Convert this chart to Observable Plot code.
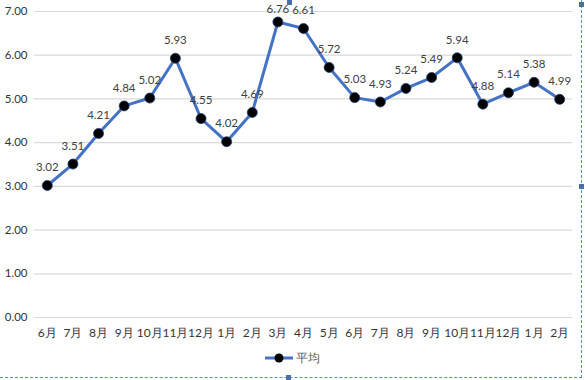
<!DOCTYPE html>
<html>
<head>
<meta charset="utf-8">
<script src="https://cdn.jsdelivr.net/npm/d3@7"></script>
<script src="https://cdn.jsdelivr.net/npm/@observablehq/plot@0.6"></script>
<style>
  html, body { margin: 0; padding: 0; background: #fff; }
  body { width: 585px; height: 380px; position: relative; overflow: hidden; font-family: Lato, "Open Sans", sans-serif; }
  #legend { position: absolute; left: 0; top: 348px; width: 585px; height: 20px; display: flex; justify-content: center; align-items: center; font-size: 12px; color: #595959; }
  #legend svg { margin-right: 3px; }
  .border-b { position: absolute; left: 0; top: 377px; width: 582px; border-top: 1px dashed #5b8bd0; }
  .border-r { position: absolute; left: 581px; top: 0; height: 378px; border-left: 1px dashed #5b8bd0; }
  .h { position: absolute; width: 5px; height: 5px; background: #4a6fa8; }
</style>
</head>
<body>
<div id="chart"></div>
<div id="legend"><svg width="28" height="10"><line x1="0" y1="5" x2="28" y2="5" stroke="#4472C4" stroke-width="3"/><circle cx="14" cy="5" r="4.5" fill="#000"/></svg><span>平均</span></div>
<div class="border-b"></div>
<div class="border-r"></div>
<div class="h" style="left:287px;top:0px;"></div>
<div class="h" style="left:579px;top:2px;"></div>
<div class="h" style="left:579px;top:184px;"></div>
<div class="h" style="left:286px;top:375px;"></div>
<script>
const months = ["6月","7月","8月","9月","10月","11月","12月","1月","2月","3月","4月","5月","6月","7月","8月","9月","10月","11月","12月","1月","2月"];
const values = [3.02,3.51,4.21,4.84,5.02,5.93,4.55,4.02,4.69,6.76,6.61,5.72,5.03,4.93,5.24,5.49,5.94,4.88,5.14,5.38,4.99];
const yTicks = [0,1,2,3,4,5,6,7];

const data = months.map((m, i) => ({key: i, month: m, value: values[i]}));
const fmt = d => d.value.toFixed(2);

const chart = Plot.plot({
  width: 585,
  height: 345,
  marginLeft: 34,
  marginRight: 13,
  marginTop: 11,
  marginBottom: 28,
  style: {fontFamily: "Lato, 'Open Sans', sans-serif", fontSize: "11.5px", color: "#404040", background: "white"},
  x: {type: "point", domain: data.map(d => d.key), padding: 0.5, round: false, label: null},
  y: {domain: [0, 7], label: null},
  marks: [
    Plot.gridY(yTicks, {stroke: "#d9d9d9", strokeOpacity: 1, strokeWidth: 1.2}),
    Plot.axisX({tickSize: 0, tickPadding: 11, tickFormat: i => months[i], fill: "#333", fontSize: 12}),
    Plot.axisY({ticks: yTicks, tickSize: 0, tickPadding: 7, tickFormat: d => d.toFixed(2), fill: "#333"}),
    Plot.line(data, {x: "key", y: "value", stroke: "#4472C4", strokeWidth: 3}),
    Plot.dot(data, {x: "key", y: "value", r: 5, fill: "#000", stroke: "#1f3b70", strokeWidth: 0.8}),
    Plot.text(data.filter(d => d.value < 6.7), {x: "key", y: "value", text: fmt, dy: -18, fill: "#404040", fontSize: 11.5}),
    Plot.text(data.filter(d => d.value >= 6.7), {x: "key", y: "value", text: fmt, dy: -13, fill: "#404040", fontSize: 11.5})
  ]
});
document.getElementById("chart").appendChild(chart);
</script>
</body>
</html>
